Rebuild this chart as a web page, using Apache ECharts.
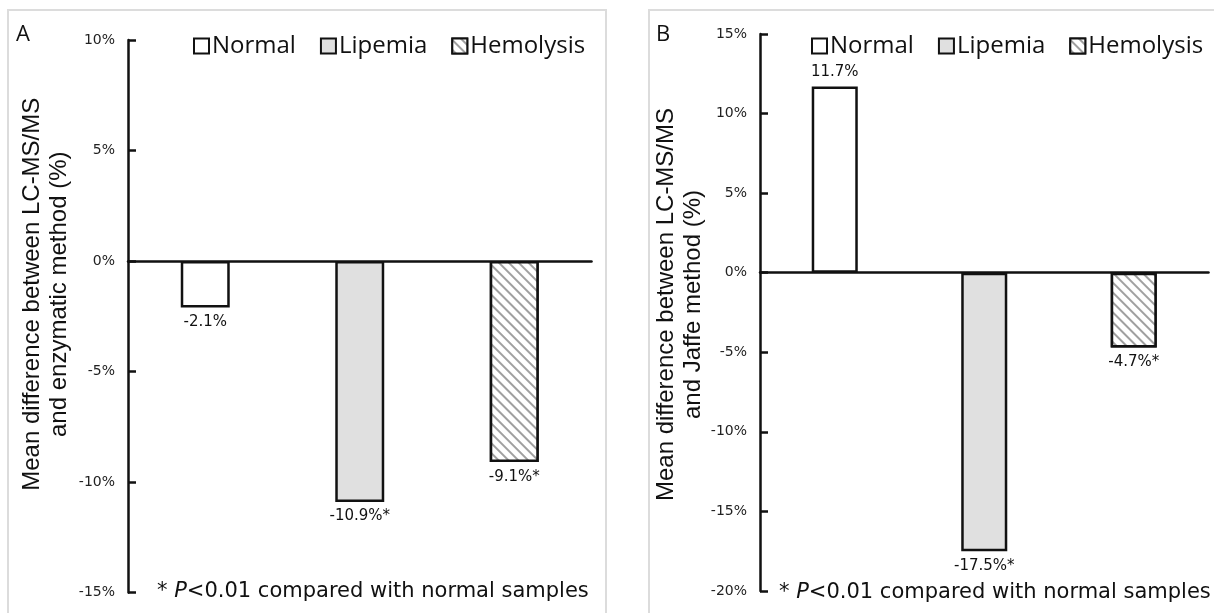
<!DOCTYPE html>
<html>
<head>
<meta charset="utf-8">
<script src="https://cdn.jsdelivr.net/npm/echarts@6/dist/echarts.min.js"></script>
<style>
  html, body { margin: 0; padding: 0; background: #fff; }
  #chart { width: 1214px; height: 613px; }
</style>
</head>
<body>
<div id="chart"></div>
<script>
// sample groups (legend + categories)
const groups = ['Normal', 'Lipemia', 'Hemolysis']

// A: LC-MS/MS vs enzymatic method
const valuesA = [-2.1, -10.9, -9.1]
const sigA = [false, true, true]
const ticksA = [-15, -10, -5, 0, 5, 10]
const titleA = 'Mean difference between LC-MS/MS\nand enzymatic method (%)'

// B: LC-MS/MS vs Jaffe method
const valuesB = [11.7, -17.5, -4.7]
const sigB = [false, true, true]
const ticksB = [-20, -15, -10, -5, 0, 5, 10, 15]
const titleB = 'Mean difference between LC-MS/MS\nand Jaffe method (%)'

const note = '* P<0.01 compared with normal samples'

const ink = '#111'
const labelFont = 'DejaVu Sans'

const barStyles = [
  { color: '#fff', borderColor: ink, borderWidth: 2.5 },
  { color: '#e0e0e0', borderColor: ink, borderWidth: 2.5 },
  {
    color: '#fff',
    borderColor: ink,
    borderWidth: 2.5,
    // diagonal hatch
    decal: {
      symbol: 'rect',
      symbolSize: 1,
      dashArrayX: [[1, 0]],
      dashArrayY: [1.3, 4.5],
      rotation: Math.PI / 4,
      color: '#a0a0a0',
      backgroundColor: '#fff'
    }
  }
]

function makeSeries (panel, values, sig, barWidth) {
  return groups.map((g, i) => ({
    name: g,
    type: 'bar',
    xAxisIndex: panel,
    yAxisIndex: panel,
    stack: 'p' + panel,
    barWidth: barWidth,
    itemStyle: barStyles[i],
    label: {
      show: true,
      distance: 7,
      color: ink,
      fontFamily: labelFont,
      fontSize: 15,
      formatter: (p) => p.value + '%' + (sig[i] ? '*' : '')
    },
    data: values.map((v, j) => j === i
      ? { value: v, label: { position: v < 0 ? 'bottom' : 'top' } }
      : '-')
  }))
}

function makeYAxis (panel, ticks, title, nameGap, shift) {
  return {
    type: 'value',
    gridIndex: panel,
    min: ticks[0],
    max: ticks[ticks.length - 1],
    interval: ticks[1] - ticks[0],
    axisLine: { show: true, lineStyle: { color: ink, width: 2.5 } },
    axisTick: { show: true, inside: true, length: 8, lineStyle: { color: ink, width: 2.5 } },
    splitLine: { show: false },
    axisLabel: {
      margin: 13,
      color: '#222',
      fontFamily: labelFont,
      fontSize: 14,
      formatter: '{value}%'
    },
    name: title,
    nameLocation: 'middle',
    nameRotate: 90,
    nameGap: nameGap,
    nameTextStyle: {
      fontFamily: 'Liberation Sans',
      fontSize: 24,
      lineHeight: 27,
      color: ink,
      padding: [0, 0, 0, shift]
    }
  }
}

function makeXAxis (panel) {
  return {
    type: 'category',
    gridIndex: panel,
    data: groups,
    axisLine: { lineStyle: { color: ink, width: 2.5 } },
    axisTick: { show: false },
    axisLabel: { show: false }
  }
}

function makeLegend (left) {
  return {
    left: left,
    top: 34,
    width: 440,
    padding: 0,
    icon: 'rect',
    itemWidth: 15,
    itemHeight: 15,
    itemGap: 24,
    selectedMode: false,
    data: groups,
    itemStyle: { borderWidth: 2 },
    textStyle: { fontFamily: 'Open Sans', fontSize: 24, color: ink, padding: [0, 0, 0, -2] }
  }
}

function noteText (x, y) {
  const parts = note.split('P')
  return {
    type: 'text',
    x: x,
    y: y,
    style: {
      text: '{a|' + parts[0] + '}{i|P}{a|' + parts[1] + '}',
      verticalAlign: 'middle',
      rich: {
        a: { fontFamily: labelFont, fontSize: 21, fill: ink },
        i: { fontFamily: labelFont, fontSize: 21, fontStyle: 'italic', fill: ink }
      }
    }
  }
}

const chart = echarts.init(document.getElementById('chart'))

chart.setOption({
  animation: false,
  backgroundColor: '#fff',
  grid: [
    { left: 128, top: 40, width: 463.5, height: 552.5 },
    { left: 760, top: 34, width: 448.5, height: 557 }
  ],
  xAxis: [makeXAxis(0), makeXAxis(1)],
  yAxis: [
    makeYAxis(0, ticksA, titleA, 55, 44),
    makeYAxis(1, ticksB, titleB, 52, 16)
  ],
  legend: [makeLegend(193), makeLegend(811)],
  series: makeSeries(0, valuesA, sigA, '31.7%').concat(makeSeries(1, valuesB, sigB, '30.8%')),
  graphic: [
    { type: 'rect', shape: { x: 8, y: 10, width: 598, height: 640 }, style: { fill: 'none', stroke: '#dcdcdc', lineWidth: 2 }, z: -1 },
    { type: 'rect', shape: { x: 649, y: 10, width: 640, height: 640 }, style: { fill: 'none', stroke: '#dcdcdc', lineWidth: 2 }, z: -1 },
    { type: 'text', x: 16, y: 24, style: { text: 'A', fontFamily: 'Open Sans', fontSize: 22, fill: ink } },
    { type: 'text', x: 656, y: 24, style: { text: 'B', fontFamily: 'Open Sans', fontSize: 22, fill: ink } },
    noteText(157, 592),
    noteText(779, 593)
  ]
})
</script>
</body>
</html>
